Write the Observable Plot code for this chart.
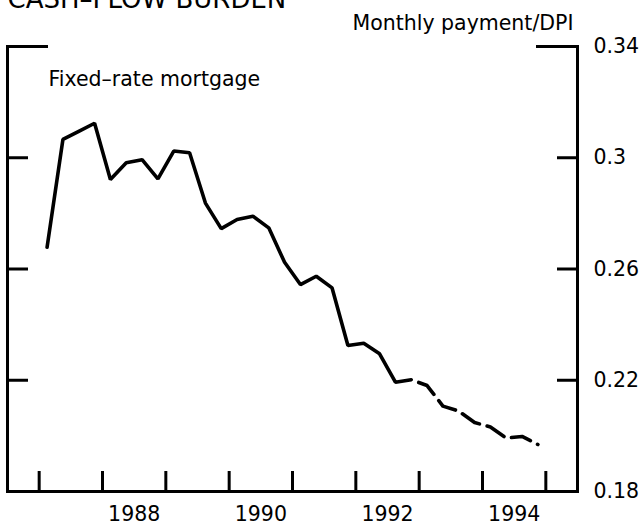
<!DOCTYPE html>
<html><head><meta charset="utf-8">
<script src="https://cdn.jsdelivr.net/npm/d3@7"></script>
<script src="https://cdn.jsdelivr.net/npm/@observablehq/plot@0.6"></script>
<style>body{margin:0;background:#fff}</style>
</head><body><div id="chart"></div>
<script>
const title = "CASH–FLOW BURDEN";
const yLabel = "Monthly payment/DPI";
const seriesLabel = "Fixed–rate mortgage";

const quarters = [
  "1987Q1","1987Q2","1987Q3","1987Q4",
  "1988Q1","1988Q2","1988Q3","1988Q4",
  "1989Q1","1989Q2","1989Q3","1989Q4",
  "1990Q1","1990Q2","1990Q3","1990Q4",
  "1991Q1","1991Q2","1991Q3","1991Q4",
  "1992Q1","1992Q2","1992Q3","1992Q4",
  "1993Q1","1993Q2","1993Q3","1993Q4",
  "1994Q1","1994Q2","1994Q3","1994Q4"
];
const values = [
  0.2678, 0.3066, 0.3095, 0.3124,
  0.2922, 0.2982, 0.2993, 0.2924,
  0.3024, 0.3018, 0.2837, 0.2745,
  0.2778, 0.2790, 0.2748, 0.2624,
  0.2544, 0.2574, 0.2532, 0.2325,
  0.2333, 0.2295, 0.2193, 0.2202,
  0.2181, 0.2107, 0.2089, 0.2048,
  0.2032, 0.1992, 0.1998, 0.1969
];
const lastActualQuarter = "1992Q4";

const yTickValues = [0.34, 0.3, 0.26, 0.22, 0.18];
const innerYTicks = [0.3, 0.26, 0.22];
const topYTick = [0.34];
const yearTicks = [1987, 1988, 1989, 1990, 1991, 1992, 1993, 1994, 1995];
const yearLabels = [1988, 1990, 1992, 1994];
const xDomain = [1986.5, 1995.5];
const yDomain = [0.18, 0.34];

const rows = quarters.map((q, i) => ({
  t: +q.slice(0, 4) + (+q.slice(5) - 0.5) / 4,
  v: values[i]
}));
const split = quarters.indexOf(lastActualQuarter);
const actual = rows.slice(0, split + 1);
const projected = rows.slice(split);

const W = 640, H = 527;
const mL = 7, mR = 63, mT = 46, mB = 36;
const pw = W - mL - mR, ph = H - mT - mB;
const font = "DejaVu Sans";
const fs = 20.5;

const chart = Plot.plot({
  width: W, height: H,
  marginLeft: mL, marginRight: mR, marginTop: mT, marginBottom: mB,
  style: {fontFamily: font, fontSize: fs + "px", background: "#fff", color: "#000", overflow: "visible"},
  x: {domain: xDomain, axis: null},
  y: {domain: yDomain, axis: null},
  marks: [
    Plot.frame({anchor: "left", stroke: "#000", strokeWidth: 3}),
    Plot.frame({anchor: "right", stroke: "#000", strokeWidth: 3}),
    Plot.frame({anchor: "bottom", stroke: "#000", strokeWidth: 3}),
    Plot.tickY(innerYTicks, {y: d => d, stroke: "#000", strokeWidth: 3, insetRight: pw - 21}),
    Plot.tickY(innerYTicks, {y: d => d, stroke: "#000", strokeWidth: 3, insetLeft: pw - 20}),
    Plot.tickY(topYTick, {y: d => d, stroke: "#000", strokeWidth: 3, insetRight: pw - 41}),
    Plot.tickY(topYTick, {y: d => d, stroke: "#000", strokeWidth: 3, insetLeft: pw - 41}),
    Plot.tickX(yearTicks, {x: d => d, stroke: "#000", strokeWidth: 3, insetTop: ph - 20}),
    Plot.axisY(yTickValues, {anchor: "right", tickSize: 0, tickPadding: 16, tickFormat: d => String(d), label: null, fontSize: fs, fill: "#000"}),
    Plot.axisX(yearLabels.map(d => d + 0.5), {anchor: "bottom", tickSize: 0, tickPadding: 15, tickFormat: d => String(Math.floor(d)), label: null, fontSize: fs, fill: "#000"}),
    Plot.line(actual, {x: "t", y: "v", stroke: "#000", strokeWidth: 3.6, strokeLinejoin: "miter"}),
    Plot.line(projected, {x: "t", y: "v", stroke: "#000", strokeWidth: 3.6, strokeDasharray: "20,8", strokeDashoffset: 20}),
    Plot.text([seriesLabel], {text: d => d, frameAnchor: "top-left", dx: 41, dy: 39, textAnchor: "start", lineAnchor: "bottom", fontSize: fs, fill: "#000"}),
    Plot.text([yLabel], {text: d => d, frameAnchor: "top-right", dx: -4, dy: -16.7, textAnchor: "end", lineAnchor: "bottom", fontSize: fs, fill: "#000"}),
    Plot.text([title], {text: d => d, frameAnchor: "top-left", dx: 0, dy: -39, textAnchor: "start", lineAnchor: "bottom", fontSize: 26, fill: "#000"})
  ]
});
document.getElementById("chart").appendChild(chart);
</script>
</body></html>
